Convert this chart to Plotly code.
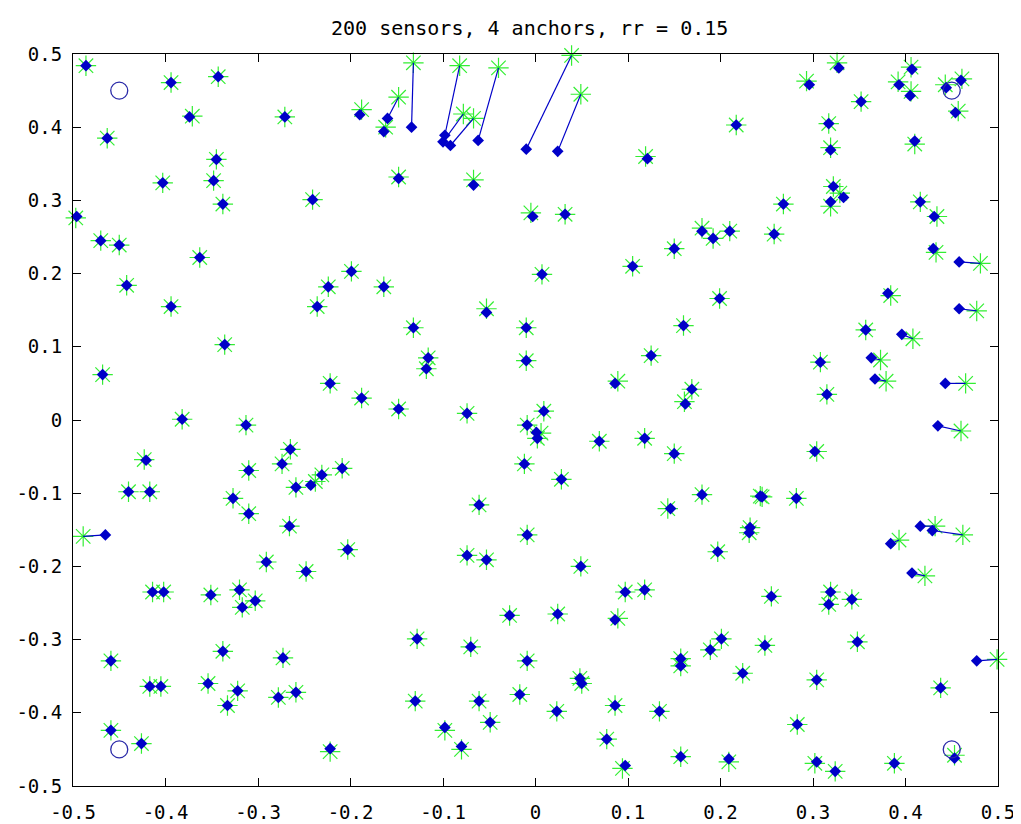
import plotly.graph_objects as go

title_text = "200 sensors, 4 anchors, rr = 0.15"

# estimated sensor positions (blue diamonds)
est_x = [-0.486, -0.394, -0.343, -0.374, -0.271, -0.463, -0.345, -0.403, -0.348, -0.338,
         -0.496, -0.470, -0.450, -0.363, -0.190, -0.160, -0.164, -0.134, -0.148, -0.241,
         -0.199, -0.098, -0.100, -0.092, -0.062, -0.067, -0.010, -0.003, 0.024, 0.032,
         0.007, 0.121, 0.217, 0.150, 0.180, 0.192, 0.210, 0.105, 0.328, 0.296,
         0.407, 0.393, 0.405, 0.444, 0.460, 0.454, 0.352, 0.317, 0.410, 0.319,
         0.322, 0.319, 0.333, 0.268, 0.416, 0.431, 0.258, 0.430, 0.458, -0.442,
         -0.394, -0.336, -0.468, -0.382, -0.313, -0.421, -0.440, -0.417, -0.310, -0.327,
         -0.310, -0.265, -0.274, -0.259, -0.266, -0.224, -0.164, -0.236, -0.053, -0.132,
         -0.010, -0.116, -0.118, -0.010, -0.222, -0.188, -0.148, -0.074, -0.009, -0.209,
         -0.231, -0.243, -0.012, -0.061, 0.199, 0.160, 0.125, 0.086, 0.169, 0.162,
         0.009, 0.001, 0.002, 0.069, 0.118, 0.150, 0.028, 0.180, 0.146, 0.243,
         0.232, 0.381, 0.458, 0.357, 0.396, 0.363, 0.367, 0.308, 0.315, 0.443,
         0.435, 0.302, 0.245, 0.282, 0.416, 0.429, 0.384, 0.407, 0.255, 0.319,
         0.317, 0.342, 0.248, 0.348, 0.477, 0.304, 0.438, 0.283, 0.453, 0.304,
         0.324, 0.388, -0.009, 0.231, 0.197, 0.049, 0.097, 0.118, 0.024, 0.086,
         0.201, 0.189, 0.157, 0.157, -0.009, 0.224, 0.048, 0.050, 0.023, 0.086,
         0.134, 0.077, 0.157, 0.209, 0.097, -0.203, -0.248, -0.074, -0.053, -0.028,
         -0.128, -0.070, -0.259, -0.130, -0.061, -0.017, -0.049, -0.098, -0.080, -0.222,
         -0.465, -0.291, -0.414, -0.402, -0.351, -0.320, -0.317, -0.303, -0.338, -0.273,
         -0.459, -0.417, -0.405, -0.354, -0.322, -0.333, -0.278, -0.459, -0.426]
est_y = [0.484, 0.461, 0.469, 0.414, 0.414, 0.385, 0.356, 0.324, 0.327, 0.295,
         0.278, 0.245, 0.239, 0.222, 0.417, 0.412, 0.394, 0.400, 0.330, 0.301,
         0.203, 0.389, 0.380, 0.375, 0.382, 0.321, 0.370, 0.278, 0.367, 0.281,
         0.199, 0.357, 0.403, 0.234, 0.258, 0.248, 0.258, 0.210, 0.481, 0.458,
         0.479, 0.458, 0.443, 0.454, 0.464, 0.420, 0.435, 0.405, 0.381, 0.369,
         0.319, 0.298, 0.304, 0.295, 0.298, 0.278, 0.254, 0.234, 0.216, 0.184,
         0.155, 0.103, 0.062, 0.001, -0.007, -0.055, -0.098, -0.098, -0.069, -0.107,
         -0.128, -0.040, -0.060, -0.092, -0.145, 0.182, 0.182, 0.155, 0.147, 0.126,
         0.126, 0.085, 0.070, 0.081, 0.050, 0.030, 0.015, 0.009, -0.007, -0.066,
         -0.075, -0.089, -0.060, -0.116, 0.166, 0.129, 0.088, 0.050, 0.042, 0.022,
         0.012, -0.017, -0.025, -0.029, -0.025, -0.046, -0.081, -0.102, -0.121, -0.104,
         -0.147, 0.173, 0.152, 0.123, 0.117, 0.085, 0.056, 0.079, 0.035, 0.050,
         -0.008, -0.043, -0.105, -0.107, -0.145, -0.151, -0.169, -0.209, -0.241, -0.235,
         -0.252, -0.245, -0.308, -0.303, -0.329, -0.355, -0.366, -0.416, -0.462, -0.467,
         -0.480, -0.469, -0.157, -0.154, -0.180, -0.200, -0.235, -0.232, -0.265, -0.273,
         -0.299, -0.314, -0.326, -0.336, -0.329, -0.346, -0.353, -0.360, -0.398, -0.390,
         -0.398, -0.436, -0.460, -0.463, -0.472, -0.177, -0.207, -0.185, -0.191, -0.267,
         -0.299, -0.310, -0.372, -0.384, -0.384, -0.375, -0.413, -0.420, -0.446, -0.449,
         -0.157, -0.194, -0.235, -0.235, -0.239, -0.232, -0.256, -0.247, -0.316, -0.325,
         -0.329, -0.364, -0.364, -0.360, -0.370, -0.390, -0.379, -0.424, -0.442]

# true sensor positions (green stars)
true_x = [-0.486, -0.394, -0.343, -0.371, -0.271, -0.463, -0.345, -0.403, -0.348, -0.338,
          -0.497, -0.470, -0.450, -0.363, -0.188, -0.148, -0.162, -0.132, -0.148, -0.241,
          -0.199, -0.082, -0.078, -0.067, -0.040, -0.067, 0.039, -0.005, 0.049, 0.032,
          0.007, 0.119, 0.217, 0.150, 0.180, 0.192, 0.210, 0.105, 0.326, 0.293,
          0.406, 0.392, 0.406, 0.443, 0.461, 0.457, 0.352, 0.317, 0.410, 0.319,
          0.322, 0.319, 0.329, 0.268, 0.416, 0.434, 0.258, 0.433, 0.481, -0.442,
          -0.394, -0.336, -0.468, -0.382, -0.313, -0.423, -0.440, -0.417, -0.310, -0.327,
          -0.310, -0.265, -0.274, -0.259, -0.266, -0.224, -0.164, -0.236, -0.053, -0.132,
          -0.010, -0.116, -0.118, -0.010, -0.222, -0.188, -0.148, -0.074, -0.009, -0.209,
          -0.231, -0.238, -0.012, -0.061, 0.199, 0.160, 0.125, 0.089, 0.169, 0.161,
          0.009, 0.006, 0.002, 0.069, 0.118, 0.150, 0.028, 0.180, 0.143, 0.243,
          0.232, 0.384, 0.477, 0.357, 0.408, 0.373, 0.379, 0.308, 0.315, 0.465,
          0.460, 0.304, 0.245, 0.282, 0.432, 0.462, 0.393, 0.421, 0.255, 0.319,
          0.317, 0.342, 0.248, 0.348, 0.499, 0.304, 0.438, 0.283, 0.453, 0.302,
          0.324, 0.388, -0.009, 0.231, 0.197, 0.049, 0.097, 0.118, 0.024, 0.089,
          0.201, 0.189, 0.157, 0.157, -0.009, 0.224, 0.048, 0.050, 0.023, 0.086,
          0.134, 0.077, 0.157, 0.209, 0.094, -0.203, -0.248, -0.074, -0.053, -0.028,
          -0.128, -0.070, -0.259, -0.130, -0.061, -0.017, -0.049, -0.098, -0.080, -0.222,
          -0.489, -0.291, -0.414, -0.402, -0.351, -0.320, -0.317, -0.303, -0.338, -0.273,
          -0.459, -0.417, -0.405, -0.354, -0.322, -0.333, -0.278, -0.459, -0.426]
true_y = [0.484, 0.461, 0.469, 0.415, 0.414, 0.385, 0.356, 0.324, 0.327, 0.295,
          0.276, 0.245, 0.239, 0.222, 0.424, 0.441, 0.400, 0.488, 0.332, 0.301,
          0.203, 0.484, 0.418, 0.412, 0.481, 0.328, 0.498, 0.283, 0.445, 0.281,
          0.199, 0.360, 0.403, 0.234, 0.262, 0.248, 0.258, 0.210, 0.488, 0.463,
          0.482, 0.462, 0.449, 0.458, 0.466, 0.422, 0.435, 0.405, 0.377, 0.372,
          0.319, 0.292, 0.310, 0.295, 0.298, 0.278, 0.254, 0.229, 0.214, 0.184,
          0.155, 0.103, 0.062, 0.001, -0.007, -0.054, -0.098, -0.098, -0.069, -0.107,
          -0.128, -0.040, -0.060, -0.092, -0.145, 0.182, 0.182, 0.155, 0.152, 0.126,
          0.126, 0.085, 0.070, 0.081, 0.050, 0.030, 0.015, 0.009, -0.007, -0.066,
          -0.075, -0.084, -0.060, -0.116, 0.166, 0.129, 0.088, 0.053, 0.042, 0.025,
          0.012, -0.018, -0.025, -0.029, -0.025, -0.046, -0.081, -0.102, -0.121, -0.104,
          -0.147, 0.170, 0.149, 0.123, 0.111, 0.082, 0.053, 0.079, 0.035, 0.050,
          -0.015, -0.043, -0.105, -0.107, -0.145, -0.157, -0.164, -0.213, -0.241, -0.235,
          -0.252, -0.245, -0.308, -0.303, -0.327, -0.355, -0.366, -0.416, -0.458, -0.469,
          -0.480, -0.469, -0.157, -0.154, -0.180, -0.200, -0.235, -0.232, -0.265, -0.271,
          -0.299, -0.314, -0.326, -0.336, -0.329, -0.346, -0.353, -0.360, -0.398, -0.390,
          -0.398, -0.436, -0.460, -0.467, -0.476, -0.177, -0.207, -0.185, -0.191, -0.267,
          -0.299, -0.310, -0.372, -0.384, -0.384, -0.375, -0.413, -0.424, -0.450, -0.453,
          -0.159, -0.194, -0.235, -0.235, -0.239, -0.232, -0.256, -0.247, -0.316, -0.325,
          -0.329, -0.364, -0.364, -0.360, -0.370, -0.390, -0.379, -0.424, -0.442]

# anchors (blue circles)
anchor_x = [-0.45, 0.45, -0.45, 0.45]
anchor_y = [0.45, 0.45, -0.45, -0.45]

tick_vals = [-0.5, -0.4, -0.3, -0.2, -0.1, 0, 0.1, 0.2, 0.3, 0.4, 0.5]
tick_text = ["-0.5", "-0.4", "-0.3", "-0.2", "-0.1", "0", "0.1", "0.2", "0.3", "0.4", "0.5"]

# connecting segments estimated -> true
seg_x, seg_y = [], []
for ex, ey, tx, ty in zip(est_x, est_y, true_x, true_y):
    seg_x += [ex, tx, None]
    seg_y += [ey, ty, None]

BLUE = "#0000c8"
GREEN = "#33ee33"

fig = go.Figure()
fig.add_trace(go.Scatter(x=true_x, y=true_y, mode="markers", cliponaxis=False,
                         marker=dict(symbol="asterisk-open", size=17, color=GREEN,
                                     line=dict(color=GREEN, width=1.2)),
                         showlegend=False))
fig.add_trace(go.Scatter(x=seg_x, y=seg_y, mode="lines", cliponaxis=False,
                         line=dict(color=BLUE, width=1.2), showlegend=False))
fig.add_trace(go.Scatter(x=est_x, y=est_y, mode="markers", cliponaxis=False,
                         marker=dict(symbol="diamond", size=9, color=BLUE,
                                     line=dict(color=BLUE, width=0)),
                         showlegend=False))
fig.add_trace(go.Scatter(x=anchor_x, y=anchor_y, mode="markers", cliponaxis=False,
                         marker=dict(symbol="circle-open", size=17, color="#2a2aa8",
                                     line=dict(color="#2a2aa8", width=1.3)),
                         showlegend=False))

axis_common = dict(range=[-0.5, 0.5], tickvals=tick_vals, ticktext=tick_text,
                   showline=True, linecolor="black", linewidth=1, mirror="ticks",
                   ticks="inside", ticklen=8, tickcolor="black", tickwidth=1,
                   showgrid=False, zeroline=False, automargin=False,
                   tickfont=dict(family="DejaVu Sans Mono", size=19, color="black"))

# the page body adds an 8px offset, so the figure is sized 8px smaller
fig.update_layout(
    width=1013, height=816,
    margin=dict(l=65, r=23, t=46, b=38, autoexpand=False),
    paper_bgcolor="white", plot_bgcolor="white",
    title=dict(text=title_text, x=0.515, xanchor="center", y=1 - 20 / 816,
               yref="container", yanchor="middle",
               font=dict(family="DejaVu Sans Mono", size=20, color="black")),
    xaxis=dict(**axis_common, ticklabelstandoff=9),
    yaxis=dict(**axis_common, ticklabelstandoff=6),
)

fig.write_html("out.html")
